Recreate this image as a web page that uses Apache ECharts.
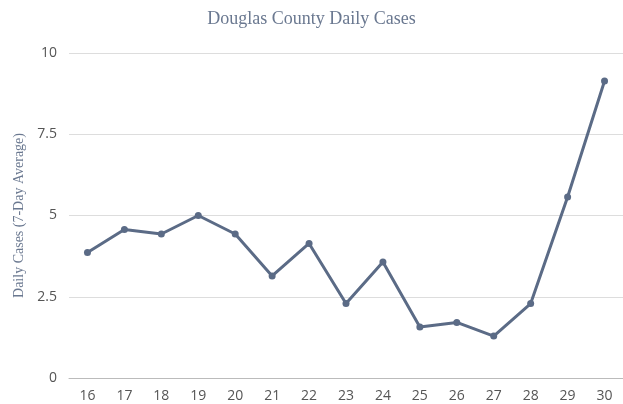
<!DOCTYPE html>
<html><head><meta charset="utf-8">
<script src="https://cdn.jsdelivr.net/npm/echarts@6/dist/echarts.min.js"></script>
<style>html,body{margin:0;padding:0;background:#fff}#c{width:623px;height:404px}</style>
</head><body><div id="c"></div>
<script>
var days = ['16','17','18','19','20','21','22','23','24','25','26','27','28','29','30'];
var cases = [3.86, 4.57, 4.43, 5.0, 4.43, 3.14, 4.14, 2.29, 3.57, 1.57, 1.71, 1.29, 2.29, 5.57, 9.14];
var yTicks = [0, 2.5, 5, 7.5, 10];
var chart = echarts.init(document.getElementById('c'));
chart.setOption({
  animation: false,
  title: {text: 'Douglas County Daily Cases', left: 'center', top: 5,
    textStyle: {fontFamily: 'Liberation Serif', fontSize: 18, fontWeight: 'normal', color: '#6a7890'}},
  grid: {left: 69, right: 0, top: 53, bottom: 26, containLabel: false},
  xAxis: {type: 'category', data: days, boundaryGap: true,
    axisLine: {lineStyle: {color: '#bbbbbb'}}, axisTick: {show: false},
    axisLabel: {fontFamily: 'Open Sans', fontSize: 14, color: '#555', margin: 11}},
  yAxis: {type: 'value', min: yTicks[0], max: yTicks[yTicks.length-1], interval: 2.5,
    name: 'Daily Cases (7-Day Average)', nameLocation: 'middle', nameGap: 40,
    nameTextStyle: {fontFamily: 'Liberation Serif', fontSize: 14, color: '#6a7890'},
    axisLine: {show: false}, axisTick: {show: false},
    axisLabel: {fontFamily: 'Open Sans', fontSize: 14, color: '#555', margin: 12},
    splitLine: {lineStyle: {color: '#dddddd'}}},
  series: [{type: 'line', data: cases, symbol: 'circle', symbolSize: 7,
    lineStyle: {color: '#5b6b86', width: 3}, itemStyle: {color: '#5b6b86'}}]
});
</script></body></html>
